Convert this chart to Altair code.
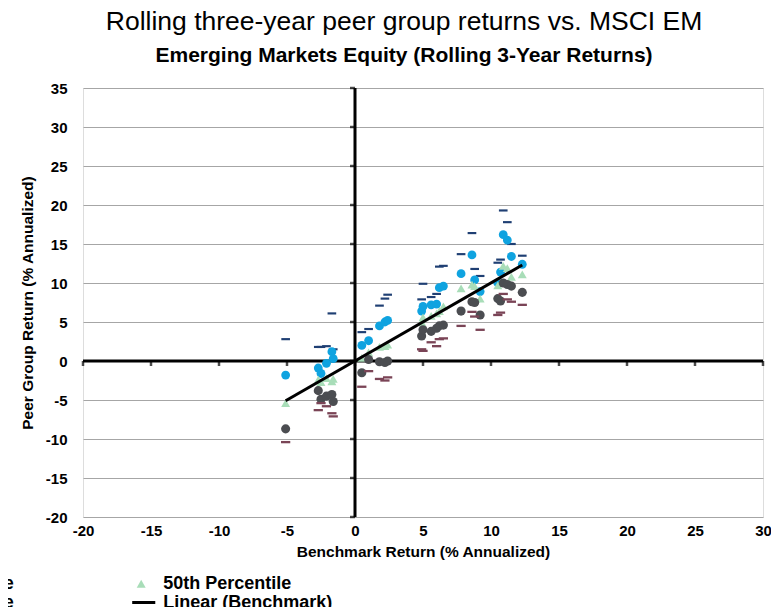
import altair as alt
import pandas as pd

# ---------------- data ----------------
bench = [-5.1, -2.7, -2.5, -2.1, -1.7, -1.6, 0.5, 1.0, 1.8, 2.2, 2.4, 4.9, 5.0, 5.6,
         6.0, 6.2, 6.5, 7.8, 8.6, 8.8, 9.2, 10.5, 10.7, 10.9, 11.2, 11.5, 12.3]
p5 = [2.8, 1.8, 1.8, 1.9, 6.1, 1.5, 3.7, 4.1, 7.1, 8.0, 8.5, 7.9, 9.9, 8.2,
      8.6, 12.1, 12.2, 13.7, 16.4, 11.8, 10.9, 12.6, 13.0, 19.3, 17.8, 15.0, 13.5]
p25 = [-1.8, -0.9, -1.6, -0.3, 1.2, 0.3, 2.0, 2.6, 4.5, 5.0, 5.2, 6.4, 7.0, 7.2,
       7.3, 9.4, 9.6, 11.2, 13.6, 10.4, 8.9, 10.0, 11.4, 16.2, 15.5, 13.4, 12.4]
p50 = [-5.4, -2.4, -2.7, -2.2, -2.6, -2.3, 0.4, 1.1, 1.8, 1.9, 2.1, 5.0, 5.6, 5.8,
       6.1, 6.4, 7.0, 9.3, 9.8, 9.6, 8.0, 9.7, 10.0, 12.2, 11.9, 10.8, 11.1]
p75 = [-8.7, -3.8, -4.9, -4.5, -4.3, -5.2, -1.5, 0.2, -0.1, -0.2, 0.0, 3.2, 4.0, 3.8,
       4.2, 4.5, 4.6, 6.4, 7.6, 7.5, 5.9, 8.0, 7.7, 10.0, 9.8, 9.6, 8.8]
p95 = [-10.4, -6.3, -5.4, -5.8, -6.7, -7.1, -3.3, -1.3, -2.3, -2.5, -2.1, 1.5, 1.3, 2.4,
       1.9, 2.8, 2.9, 4.5, 6.3, 5.7, 4.0, 5.9, 6.2, 8.6, 7.9, 7.6, 7.2]

series_names = ["5th Percentile", "25th Percentile", "50th Percentile",
                "75th Percentile", "95th Percentile", "Linear (Benchmark)"]
tick_x = [-20, -15, -10, -5, 0, 5, 10, 15, 20, 25, 30]
tick_y = [-20, -15, -10, -5, 0, 5, 10, 15, 20, 25, 30, 35]
zero = [0]

# ---------------- styling ----------------
FONT = "Liberation Sans"
DASH = "M-1,-0.25L1,-0.25L1,0.25L-1,0.25Z"
LINE = "M-3,-0.3L3,-0.3L3,0.3L-3,0.3Z"
colors = ["#1F3F73", "#0FA3E0", "#A8DDB8", "#4B4D51", "#7A4456", "#000000"]
shapes = [DASH, "circle", "triangle-up", "circle", DASH, LINE]
sizes = [75, 88, 90, 88, 75, 94]

rows = []
for name, vals in zip(series_names[:5], [p5, p25, p50, p75, p95]):
    for b, v in zip(bench, vals):
        rows.append({"bench": b, "ret": v, "series": name})
df = pd.DataFrame(rows)

xscale = alt.Scale(domain=[-20, 30], nice=False, zero=False)
yscale = alt.Scale(domain=[-20, 35], nice=False, zero=False)

legend = alt.Legend(
    title=None, orient="none", direction="horizontal", legendX=-506, legendY=488,
    columns=3, columnPadding=117.6, rowPadding=0, clipHeight=15, symbolOffset=0,
    labelOffset=13, labelFont=FONT, labelFontSize=18, labelFontWeight="bold",
    labelColor="black", labelLimit=400, padding=0,
)

LBL = "'' + datum.value"
xaxis = alt.Axis(values=tick_x, grid=False, domain=False, ticks=False, tickSize=0,
                 labelFlush=False, labelExpr=LBL, labelFont=FONT, labelFontSize=15,
                 labelFontWeight="bold", labelColor="black", labelPadding=6,
                 title="Benchmark Return (% Annualized)", titleFont=FONT,
                 titleFontSize=15.5, titleFontWeight="bold", titleColor="black",
                 titlePadding=6)
yaxis = alt.Axis(values=tick_y, grid=True, gridColor="#A6A6A6", gridWidth=1,
                 domain=False, ticks=False, tickSize=0, labelExpr=LBL, labelFont=FONT,
                 labelFontSize=15, labelFontWeight="bold", labelColor="black",
                 labelPadding=16, title="Peer Group Return (% Annualized)",
                 titleFont=FONT, titleFontSize=15.5, titleFontWeight="bold",
                 titleColor="black", titlePadding=10)

points = alt.Chart(df).mark_point(filled=True, opacity=1, strokeWidth=0).encode(
    x=alt.X("bench:Q", scale=xscale, axis=xaxis),
    y=alt.Y("ret:Q", scale=yscale, axis=yaxis),
    color=alt.Color("series:N", scale=alt.Scale(domain=series_names, range=colors), legend=legend),
    shape=alt.Shape("series:N", scale=alt.Scale(domain=series_names, range=shapes), legend=legend),
    size=alt.Size("series:N", scale=alt.Scale(domain=series_names, range=sizes), legend=legend),
)

zdf = pd.DataFrame({"z": zero})
vline = alt.Chart(zdf).mark_rule(color="black", strokeWidth=3).encode(
    x=alt.X("z:Q", scale=xscale, axis=xaxis))
hline = alt.Chart(zdf).mark_rule(color="black", strokeWidth=3).encode(
    y=alt.Y("z:Q", scale=yscale, axis=yaxis))

xt = alt.Chart(pd.DataFrame({"t": tick_x, "z": [0] * len(tick_x)})).mark_tick(
    orient="vertical", size=5, thickness=2.5, color="black", yOffset=2.5).encode(
    x=alt.X("t:Q", scale=xscale, axis=xaxis), y=alt.Y("z:Q", scale=yscale, axis=yaxis))
yt = alt.Chart(pd.DataFrame({"t": tick_y, "z": [0] * len(tick_y)})).mark_tick(
    orient="horizontal", size=5, thickness=2.5, color="black", xOffset=-2.5).encode(
    y=alt.Y("t:Q", scale=yscale, axis=yaxis), x=alt.X("z:Q", scale=xscale, axis=xaxis))

trend = alt.Chart(pd.DataFrame({"bx": bench, "by": bench})).transform_regression(
    "bx", "by").mark_line(color="black", strokeWidth=3).encode(
    x=alt.X("bx:Q", scale=xscale, axis=xaxis), y=alt.Y("by:Q", scale=yscale, axis=yaxis))

chart = alt.layer(vline, hline, xt, yt, points, trend).properties(
    width=680, height=429,
    padding={"left": 75, "top": 80, "right": 8, "bottom": 90},
    autosize=alt.AutoSizeParams(type="none"),
    title=alt.TitleParams(
        text="Rolling three-year peer group returns vs. MSCI EM",
        subtitle="Emerging Markets Equity (Rolling 3-Year Returns)",
        font=FONT, fontSize=26.5, fontWeight="normal", color="black",
        subtitleFont=FONT, subtitleFontSize=21, subtitleFontWeight="bold",
        subtitleColor="black", subtitlePadding=10, anchor="middle",
        frame="group", dx=-19, offset=15,
    ),
).configure_view(strokeWidth=0).configure(background="white")

chart.save("out.html", embed_options={"renderer": "svg", "actions": False})
